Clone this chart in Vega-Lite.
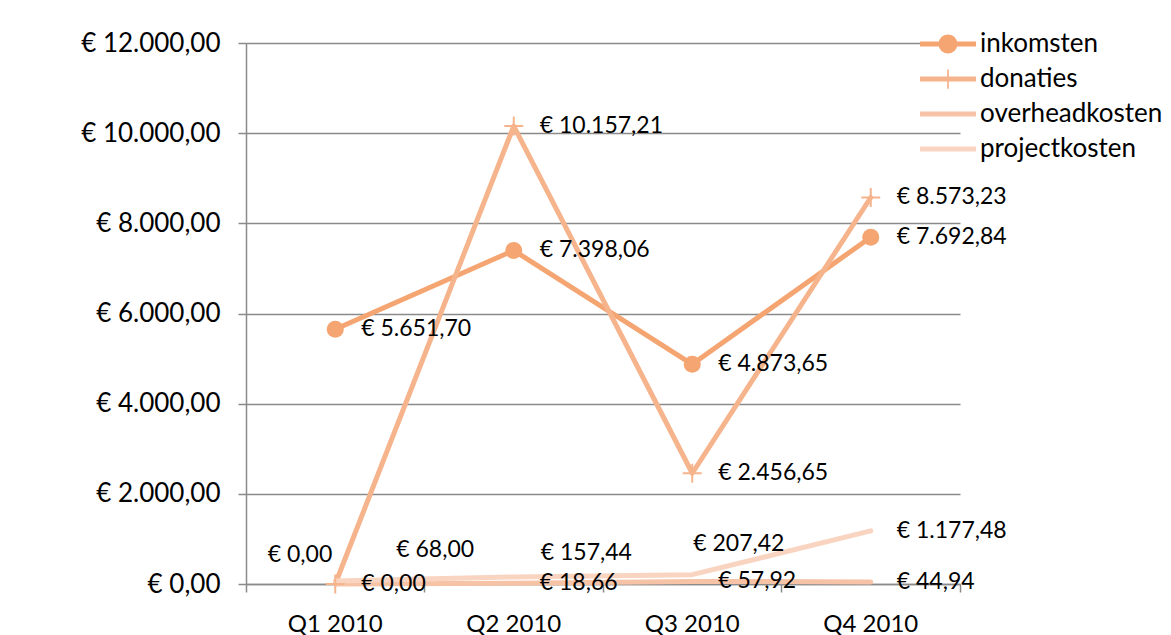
{
  "$schema": "https://vega.github.io/schema/vega-lite/v6.json",
  "width": 714,
  "height": 541,
  "autosize": {"type": "none"},
  "padding": {"left": 246, "top": 43, "right": 211, "bottom": 51},
  "background": "white",
  "config": {
    "locale": {"number": {"decimal": ",", "thousands": ".", "grouping": [3], "currency": ["€ ", ""]}},
    "view": {"stroke": null},
    "font": "Lato",
    "axis": {
      "labelFont": "Lato",
      "labelColor": "#000000",
      "domainColor": "#8a8a8a",
      "tickColor": "#8a8a8a",
      "gridColor": "#8a8a8a",
      "domainWidth": 1.5,
      "tickWidth": 1.5,
      "gridWidth": 1.5
    }
  },
  "data": {
    "values": [
      {"q": "Q1 2010", "s": "inkomsten", "v": 5651.70},
      {"q": "Q2 2010", "s": "inkomsten", "v": 7398.06},
      {"q": "Q3 2010", "s": "inkomsten", "v": 4873.65},
      {"q": "Q4 2010", "s": "inkomsten", "v": 7692.84},
      {"q": "Q1 2010", "s": "donaties", "v": 0},
      {"q": "Q2 2010", "s": "donaties", "v": 10157.21},
      {"q": "Q3 2010", "s": "donaties", "v": 2456.65},
      {"q": "Q4 2010", "s": "donaties", "v": 8573.23},
      {"q": "Q1 2010", "s": "overheadkosten", "v": 0},
      {"q": "Q2 2010", "s": "overheadkosten", "v": 18.66},
      {"q": "Q3 2010", "s": "overheadkosten", "v": 57.92},
      {"q": "Q4 2010", "s": "overheadkosten", "v": 44.94},
      {"q": "Q1 2010", "s": "projectkosten", "v": 68.00},
      {"q": "Q2 2010", "s": "projectkosten", "v": 157.44},
      {"q": "Q3 2010", "s": "projectkosten", "v": 207.42},
      {"q": "Q4 2010", "s": "projectkosten", "v": 1177.48}
    ]
  },
  "encoding": {
    "x": {
      "field": "q",
      "type": "nominal",
      "bandPosition": 0.5,
      "title": null,
      "scale": {"type": "band", "domain": ["Q1 2010", "Q2 2010", "Q3 2010", "Q4 2010"], "paddingInner": 0, "paddingOuter": 0},
      "axis": {
        "labelFontSize": 24,
        "labelAngle": 0,
        "tickSize": 8,
        "labelPadding": 20,
        "bandPosition": 1,
        "tickExtra": true,
        "grid": false
      }
    },
    "y": {
      "field": "v",
      "type": "quantitative",
      "title": null,
      "scale": {"domain": [0, 12000], "nice": false},
      "axis": {
        "values": [0, 2000, 4000, 6000, 8000, 10000, 12000],
        "format": "$,.2f",
        "labelFontSize": 26,
        "tickSize": 8,
        "labelPadding": 18,
        "grid": true
      }
    }
  },
  "layer": [
    {
      "mark": {"type": "line", "strokeWidth": 5, "strokeCap": "round", "strokeJoin": "round"},
      "encoding": {
        "color": {
          "field": "s",
          "type": "nominal",
          "scale": {
            "domain": ["inkomsten", "donaties", "overheadkosten", "projectkosten"],
            "range": ["#F5A571", "#F6B48D", "#F7C3A6", "#F9D4C0"]
          },
          "legend": {
            "orient": "none",
            "legendX": 684.5,
            "legendY": -16.5,
            "title": null,
            "symbolSize": 1225,
            "symbolStrokeWidth": 0,
            "symbolType": "M-1.6,-0.14L1.6,-0.14L1.6,0.14L-1.6,0.14Z",
            "labelFont": "Lato",
            "labelFontSize": 26,
            "labelColor": "#000000",
            "labelOffset": 14.5,
            "labelLimit": 0,
            "rowPadding": 4,
            "padding": 0,
            "encode": {
              "symbols": {
                "update": {
                  "shape": {"signal": "datum.value === 'inkomsten' ? 'M-1.6,-0.14L1.6,-0.14L1.6,0.14L-1.6,0.14ZM0.54,0A0.54,0.54,0,1,1,-0.54,0A0.54,0.54,0,1,1,0.54,0Z' : datum.value === 'donaties' ? 'M-1.6,-0.14L1.6,-0.14L1.6,0.14L-1.6,0.14ZM-0.05,-0.55L0.05,-0.55L0.05,0.55L-0.05,0.55Z' : 'M-1.6,-0.14L1.6,-0.14L1.6,0.14L-1.6,0.14Z'"},
                  "fill": {"scale": "color", "field": "value"},
                  "fillOpacity": {"value": 1},
                  "opacity": {"value": 1},
                  "strokeWidth": {"value": 0}
                }
              }
            }
          }
        }
      }
    },
    {
      "transform": [{"filter": "datum.s === 'inkomsten'"}],
      "mark": {"type": "point", "shape": "circle", "filled": true, "size": 290, "opacity": 1, "color": "#F5A571", "strokeWidth": 0}
    },
    {
      "transform": [{"filter": "datum.s === 'donaties'"}],
      "mark": {"type": "point", "shape": "M-1,0L1,0M0,-1L0,1", "filled": false, "size": 361, "opacity": 1, "color": "#F6B48D", "strokeWidth": 2}
    },
    {
      "transform": [{"filter": "!((datum.s === 'donaties' && datum.q === 'Q1 2010') || (datum.s === 'projectkosten' && datum.q !== 'Q4 2010'))"}],
      "mark": {"type": "text", "align": "left", "baseline": "middle", "dx": 26, "font": "Lato", "fontSize": 23, "color": "#000000"},
      "encoding": {"text": {"field": "v", "type": "quantitative", "format": "$,.2f"}}
    },
    {
      "transform": [{"filter": "datum.s === 'donaties' && datum.q === 'Q1 2010'"}],
      "mark": {"type": "text", "align": "right", "baseline": "middle", "dx": -3, "dy": -29, "font": "Lato", "fontSize": 23, "color": "#000000"},
      "encoding": {"text": {"field": "v", "type": "quantitative", "format": "$,.2f"}}
    },
    {
      "transform": [{"filter": "datum.s === 'projectkosten' && datum.q === 'Q1 2010'"}],
      "mark": {"type": "text", "align": "left", "baseline": "middle", "dx": 61, "dy": -31, "font": "Lato", "fontSize": 23, "color": "#000000"},
      "encoding": {"text": {"field": "v", "type": "quantitative", "format": "$,.2f"}}
    },
    {
      "transform": [{"filter": "datum.s === 'projectkosten' && datum.q === 'Q2 2010'"}],
      "mark": {"type": "text", "align": "left", "baseline": "middle", "dx": 27, "dy": -24, "font": "Lato", "fontSize": 23, "color": "#000000"},
      "encoding": {"text": {"field": "v", "type": "quantitative", "format": "$,.2f"}}
    },
    {
      "transform": [{"filter": "datum.s === 'projectkosten' && datum.q === 'Q3 2010'"}],
      "mark": {"type": "text", "align": "left", "baseline": "middle", "dx": 1, "dy": -31, "font": "Lato", "fontSize": 23, "color": "#000000"},
      "encoding": {"text": {"field": "v", "type": "quantitative", "format": "$,.2f"}}
    }
  ]
}
